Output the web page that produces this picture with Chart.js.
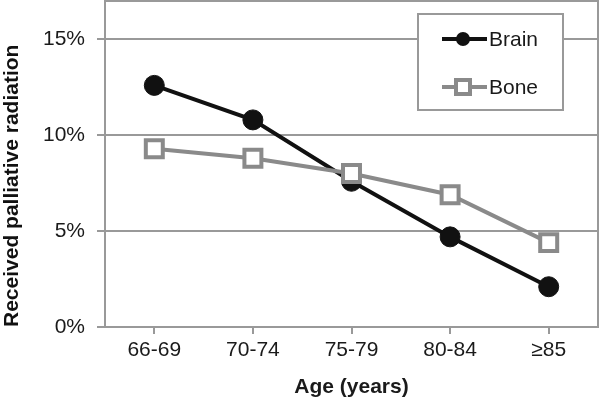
<!DOCTYPE html>
<html>
<head>
<meta charset="utf-8">
<script src="https://cdn.jsdelivr.net/npm/chart.js@4"></script>
<style>
html,body{margin:0;padding:0;background:#fff;}
#wrap{width:600px;height:400px;}
</style>
</head>
<body>
<div id="wrap"><canvas id="c" width="600" height="400"></canvas></div>
<script>
const categories = ['66-69', '70-74', '75-79', '80-84', '\u226585'];
const brainValues = [12.6, 10.8, 7.6, 4.7, 2.1];
const boneValues = [9.3, 8.8, 8.0, 6.9, 4.4];
const seriesNames = ['Brain', 'Bone'];
const yTickValues = [0, 5, 10, 15];
const xTitle = 'Age (years)';
const yTitle = 'Received palliative radiation';

const FONT = "'Liberation Sans', Arial, sans-serif";
const GRID = '#999999';
const BRAIN = '#111111';
const BONE = '#8a8a8a';

const boxPlugin = {
  id: 'box',
  afterDraw(chart) {
    const {ctx, chartArea: a} = chart;
    ctx.save();
    ctx.strokeStyle = GRID;
    ctx.lineWidth = 2;
    ctx.beginPath();
    ctx.moveTo(a.left, a.top);
    ctx.lineTo(a.right, a.top);
    ctx.lineTo(a.right, a.bottom);
    ctx.stroke();
    // legend
    const lx = 418, ly = 14, lw = 145, lh = 96;
    ctx.fillStyle = '#fff';
    ctx.fillRect(lx, ly, lw, lh);
    ctx.strokeStyle = GRID;
    ctx.lineWidth = 2;
    ctx.strokeRect(lx, ly, lw, lh);
    const rows = [39, 87];
    chart.data.datasets.forEach((ds, i) => {
      const y = rows[i];
      ctx.strokeStyle = ds.borderColor;
      ctx.lineWidth = 4;
      ctx.beginPath();
      ctx.moveTo(442, y);
      ctx.lineTo(487, y);
      ctx.stroke();
      if (ds.pointStyle === 'circle') {
        ctx.fillStyle = ds.borderColor;
        ctx.beginPath();
        ctx.arc(463, y, 7, 0, Math.PI * 2);
        ctx.fill();
      } else {
        ctx.fillStyle = '#fff';
        ctx.lineWidth = 4;
        ctx.fillRect(456, y - 7, 14, 14);
        ctx.strokeRect(456, y - 7, 14, 14);
      }
      ctx.fillStyle = '#1a1a1a';
      ctx.font = '21px ' + FONT;
      ctx.textBaseline = 'middle';
      ctx.textAlign = 'left';
      ctx.fillText(ds.label, 489, y + 1);
    });
    ctx.restore();
  }
};

new Chart(document.getElementById('c'), {
  type: 'line',
  data: {
    labels: categories,
    datasets: [
      {
        label: seriesNames[0],
        data: brainValues,
        borderColor: BRAIN,
        backgroundColor: BRAIN,
        borderWidth: 4,
        pointStyle: 'circle',
        pointRadius: 10,
        pointBorderWidth: 1,
        pointBackgroundColor: BRAIN,
        pointBorderColor: BRAIN,
        order: 1
      },
      {
        label: seriesNames[1],
        data: boneValues,
        borderColor: BONE,
        backgroundColor: '#fff',
        borderWidth: 4,
        pointStyle: 'rect',
        pointRadius: 12,
        pointBorderWidth: 4,
        pointBackgroundColor: '#fff',
        pointBorderColor: BONE,
        order: 0
      }
    ]
  },
  options: {
    responsive: false,
    animation: false,
    layout: {autoPadding: false, padding: {top: 1, right: 2, left: 0, bottom: 0}},
    plugins: {legend: {display: false}, tooltip: {enabled: false}},
    elements: {line: {tension: 0}},
    scales: {
      x: {
        offset: true,
        grid: {display: true, drawOnChartArea: false, drawTicks: true, tickLength: 7, color: GRID, lineWidth: 2},
        border: {display: true, color: GRID, width: 2},
        ticks: {color: '#1a1a1a', font: {family: FONT, size: 21}, padding: 4, maxRotation: 0},
        title: {display: true, text: xTitle, color: '#1a1a1a', font: {family: FONT, size: 21, weight: 'bold'}, padding: {top: 0, bottom: 0}},
        afterFit(scale) { scale.height = 73; scale.paddingLeft = 0; scale.paddingRight = 0; }
      },
      y: {
        min: 0,
        max: 17,
        afterBuildTicks(scale) { scale.ticks = yTickValues.map(v => ({value: v})); },
        grid: {color: GRID, lineWidth: 2, tickLength: 8, drawTicks: true},
        border: {display: true, color: GRID, width: 2},
        ticks: {color: '#1a1a1a', font: {family: FONT, size: 21}, padding: 12, callback: v => v + '%'},
        title: {display: true, align: 'start', text: yTitle, color: '#111', font: {family: FONT, size: 21, weight: 'bold'}, padding: {top: 0, bottom: 0}},
        afterFit(scale) { scale.width = 105; scale.paddingTop = 0; scale.paddingBottom = 0; }
      }
    }
  },
  plugins: [boxPlugin]
});
</script>
</body>
</html>
